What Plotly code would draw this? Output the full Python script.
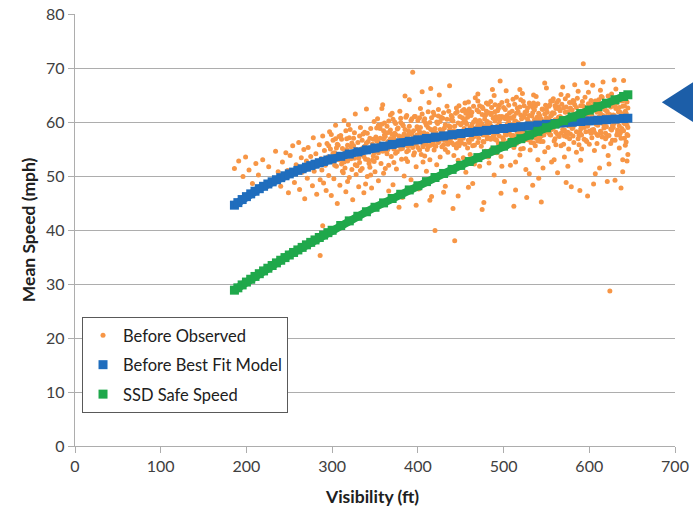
import plotly.graph_objects as go

# ---------------- data ----------------
observed_points = [
    (186, 51.4), (191, 52.8), (196, 49.9), (199, 53.5), (203, 51.1), (207, 48.6), (211, 52.3), (214, 50.2),
    (219, 53.0), (223, 47.9), (226, 51.7), (230, 49.2), (234, 54.6), (237, 50.8), (240, 48.1),
    (242, 52.6), (244, 49.7), (246, 54.3), (248, 51.0), (249, 46.9), (251, 53.8), (253, 50.4), (254, 55.6),
    (256, 48.8), (258, 52.1), (259, 51.3), (261, 56.2), (262, 47.5), (264, 53.4), (265, 50.7), (267, 54.9),
    (268, 45.8), (270, 52.8), (271, 49.6), (272, 55.3), (274, 51.9), (275, 53.6), (277, 48.2), (278, 57.1),
    (279, 50.9), (281, 54.1), (282, 46.6), (283, 52.5), (285, 55.8), (286, 49.3), (286, 35.3), (287, 53.2),
    (288, 51.1), (289, 40.8), (289, 57.4), (290, 48.7), (291, 54.7), (292, 52.0), (293, 47.3), (294, 56.0),
    (295, 53.5), (296, 50.1), (297, 58.2), (298, 55.0), (299, 46.4), (300, 52.7), (301, 56.6), (302, 49.5),
    (303, 54.3), (304, 59.4), (305, 51.8), (306, 44.9), (307, 55.7), (308, 53.0), (309, 48.3), (310, 57.5),
    (311, 52.2), (312, 55.1), (313, 50.6), (314, 60.3), (315, 54.4), (316, 47.1), (317, 56.9), (318, 52.8),
    (319, 53.9), (320, 49.7), (321, 58.6), (322, 55.4), (323, 51.2), (324, 45.6), (325, 57.0), (326, 53.3),
    (327, 61.5), (328, 50.3), (329, 54.8), (330, 56.2), (331, 48.0), (332, 52.5), (333, 59.0), (334, 54.0),
    (335, 51.4), (336, 57.8), (337, 46.9), (338, 55.5), (339, 53.1), (340, 62.4), (341, 49.9), (342, 56.4),
    (343, 54.6), (344, 51.6), (345, 58.8), (346, 47.8), (347, 55.9), (348, 53.7), (349, 60.1), (350, 50.8),
    (296, 55.6), (302, 53.8), (308, 57.3), (313, 52.9), (318, 49.0), (323, 56.1), (328, 54.9), (333, 51.0),
    (338, 58.1), (343, 52.3), (348, 56.8), (305, 55.2), (315, 51.5), (325, 54.5), (335, 56.6), (345, 50.2),
    (299, 57.7), (319, 59.5), (339, 48.5), (349, 54.3),
    (301, 54.2), (303, 52.0), (306, 55.9), (309, 53.4), (311, 56.8), (314, 52.6), (317, 54.9), (320, 57.1),
    (322, 53.2), (325, 55.6), (327, 52.1), (330, 54.3), (332, 57.4), (334, 55.0), (337, 53.6), (340, 56.1),
    (342, 53.0), (344, 57.0), (346, 54.8), (349, 52.7), (304, 56.9), (312, 50.9), (318, 55.7), (326, 58.0),
    (331, 53.3), (336, 55.2), (341, 57.9), (347, 52.9), (329, 51.9), (316, 58.4),
    (351, 57.2), (352, 53.4), (353, 60.6), (354, 49.1), (355, 56.0), (356, 58.8), (357, 52.3), (358, 55.1),
    (359, 63.2), (360, 50.5), (361, 57.6), (362, 54.7), (363, 45.3), (364, 59.2), (365, 56.4), (366, 52.0),
    (367, 58.1), (368, 61.3), (369, 53.6), (370, 55.9), (371, 48.4), (372, 57.0), (373, 60.0), (374, 54.2),
    (375, 51.3), (376, 58.7), (377, 56.5), (378, 44.2), (379, 62.0), (380, 55.0), (381, 53.1), (382, 59.6),
    (383, 57.4), (384, 50.0), (385, 56.3), (386, 60.9), (387, 54.5), (388, 52.7), (389, 58.4), (390, 64.1),
    (391, 55.7), (392, 49.3), (393, 57.9), (394, 69.2), (395, 53.9), (396, 61.0), (397, 56.8), (398, 51.7),
    (399, 59.1), (400, 55.3), (401, 47.6), (402, 58.2), (403, 62.5), (404, 54.0), (405, 57.1), (406, 52.6),
    (407, 60.2), (408, 56.0), (409, 59.8), (410, 50.9), (411, 57.8), (412, 55.4), (413, 63.6), (414, 53.0),
    (415, 58.6), (416, 46.2), (417, 56.7), (418, 61.8), (419, 54.8), (420, 39.9), (421, 58.0), (422, 52.1),
    (423, 59.7), (424, 56.2), (425, 65.0), (426, 53.5), (427, 57.5), (428, 50.3), (429, 60.7), (430, 55.8),
    (431, 58.9), (432, 48.1), (433, 56.9), (434, 62.9), (435, 54.4), (436, 59.3), (437, 57.2), (438, 51.5),
    (439, 60.4), (440, 56.1), (441, 44.0), (442, 58.4), (443, 38.0), (444, 61.6), (445, 55.2), (446, 57.7),
    (447, 52.9), (448, 63.0), (449, 56.6), (450, 59.5),
    (352, 56.5), (356, 55.0), (360, 58.4), (364, 54.1), (368, 56.9), (372, 52.5), (376, 55.6), (380, 59.9),
    (384, 57.8), (388, 55.5), (392, 60.3), (396, 54.3), (400, 58.7), (404, 56.4), (408, 53.7), (412, 59.0),
    (416, 57.3), (420, 55.6), (424, 61.1), (428, 57.6), (432, 54.9), (436, 56.4), (440, 60.9), (444, 58.0),
    (448, 55.6), (354, 59.4), (362, 51.4), (370, 61.6), (378, 56.0), (386, 53.2), (394, 57.0), (402, 60.8),
    (410, 55.9), (418, 58.3), (426, 60.1), (434, 56.5), (442, 53.8), (450, 57.3), (358, 62.5), (374, 57.7),
    (390, 58.1), (406, 55.7), (422, 56.8), (438, 59.1), (446, 61.9), (366, 47.2), (382, 46.0), (398, 44.6),
    (414, 45.5), (430, 47.0), (447, 46.3), (385, 64.8), (405, 65.6), (415, 66.2), (437, 66.7),
    (351, 55.4), (352, 58.9), (353, 56.7), (354, 54.3), (355, 59.1), (356, 57.0), (357, 55.8), (358, 59.6),
    (359, 54.6), (360, 56.9), (361, 59.8), (362, 57.3), (363, 55.2), (364, 58.0), (365, 54.9), (366, 60.2),
    (367, 56.2), (368, 58.5), (369, 55.4), (370, 57.7), (371, 60.5), (372, 55.0), (373, 57.9), (374, 59.7),
    (375, 56.3), (376, 54.5), (377, 58.9), (378, 57.4), (379, 55.6), (380, 60.7), (381, 57.0), (382, 55.1),
    (383, 59.3), (384, 56.7), (385, 58.6), (386, 55.9), (387, 61.2), (388, 57.5), (389, 54.7), (390, 59.2),
    (391, 57.8), (392, 56.1), (393, 60.6), (394, 55.3), (395, 58.4), (396, 57.2), (397, 61.0), (398, 55.9),
    (399, 57.6), (400, 60.3), (401, 56.6), (402, 54.8), (403, 59.0), (404, 57.9), (405, 61.5), (406, 55.4),
    (407, 58.0), (408, 60.6), (409, 56.8), (410, 59.4), (411, 54.9), (412, 61.9), (413, 57.3), (414, 59.9),
    (415, 55.7), (416, 60.8), (417, 58.5), (418, 56.2), (419, 61.3), (420, 58.8), (421, 55.5), (422, 60.0),
    (423, 57.3), (424, 62.3), (425, 56.5), (426, 58.6), (427, 60.9), (428, 55.4), (429, 58.2), (430, 61.7),
    (431, 56.6), (432, 59.5), (433, 57.4), (434, 60.5), (435, 55.9), (436, 62.0), (437, 58.5), (438, 56.8),
    (439, 61.2), (440, 57.9), (441, 60.2), (442, 55.8), (443, 59.2), (444, 57.1), (445, 62.6), (446, 56.0),
    (447, 59.8), (448, 58.0), (449, 61.0), (450, 56.4),
    (451, 56.1), (452, 60.8), (453, 53.4), (454, 62.3), (455, 57.9), (456, 50.7), (457, 59.6), (458, 55.2),
    (459, 63.7), (460, 58.3), (461, 54.0), (462, 61.2), (463, 56.8), (464, 48.6), (465, 60.0), (466, 57.3),
    (467, 64.5), (468, 53.1), (469, 59.0), (470, 56.2), (471, 61.9), (472, 51.8), (473, 58.7), (474, 55.5),
    (475, 62.8), (476, 57.6), (477, 45.1), (478, 60.5), (479, 54.6), (480, 59.4), (481, 56.9), (482, 63.3),
    (483, 52.4), (484, 58.1), (485, 61.4), (486, 55.0), (487, 66.0), (488, 57.4), (489, 50.2), (490, 60.2),
    (491, 58.6), (492, 54.3), (493, 62.1), (494, 56.0), (495, 59.8), (496, 67.6), (497, 53.6), (498, 61.0),
    (499, 57.1), (500, 58.9), (501, 49.0), (502, 60.6), (503, 55.8), (504, 63.9), (505, 58.2), (506, 56.5),
    (507, 61.7), (508, 52.0), (509, 59.3), (510, 57.0), (511, 64.2), (512, 55.3), (513, 60.0), (514, 47.4),
    (515, 58.5), (516, 62.6), (517, 56.3), (518, 59.7), (519, 53.9), (520, 61.3), (521, 57.7), (522, 65.3),
    (523, 55.1), (524, 60.9), (525, 58.0), (526, 51.2), (527, 62.0), (528, 56.7), (529, 59.1), (530, 63.5),
    (531, 54.8), (532, 58.8), (533, 61.1), (534, 48.3), (535, 57.3), (536, 60.4), (537, 55.6), (538, 64.7),
    (539, 58.4), (540, 53.0), (541, 61.6), (542, 57.0), (543, 59.6), (544, 45.2), (545, 62.4), (546, 56.4),
    (547, 60.1), (548, 54.5), (549, 58.6), (550, 66.3),
    (452, 57.5), (456, 59.9), (460, 61.5), (464, 55.6), (468, 58.9), (472, 60.3), (476, 56.4), (480, 62.0),
    (484, 57.0), (488, 60.7), (492, 58.0), (496, 55.7), (500, 62.7), (504, 59.5), (508, 57.6), (512, 61.0),
    (516, 58.1), (520, 55.0), (524, 63.0), (528, 60.5), (532, 56.2), (536, 62.2), (540, 59.1), (544, 57.4),
    (548, 61.5), (454, 58.8), (462, 57.4), (470, 60.1), (478, 57.8), (486, 61.6), (494, 60.6), (502, 57.8),
    (510, 60.7), (518, 56.9), (526, 59.6), (534, 62.7), (542, 60.3), (550, 58.2), (458, 62.0), (474, 59.2),
    (490, 56.8), (506, 60.0), (522, 58.5), (538, 57.0), (546, 59.9), (466, 52.2), (482, 53.5), (498, 51.8),
    (514, 52.6), (530, 50.4), (546, 51.5), (470, 65.2), (489, 64.9), (503, 65.8), (519, 66.0), (535, 65.0),
    (548, 67.2), (459, 47.9), (497, 46.8), (527, 46.0), (541, 49.6), (475, 43.8), (512, 44.4), (463, 59.5),
    (479, 61.3), (495, 63.1), (511, 57.5), (525, 61.8), (539, 60.9), (455, 63.5), (485, 59.3), (515, 64.6),
    (545, 58.7),
    (451, 59.7), (452, 62.1), (453, 57.0), (454, 60.3), (455, 55.9), (456, 61.6), (457, 58.1), (458, 60.9),
    (459, 56.6), (460, 62.4), (461, 59.0), (462, 56.9), (463, 61.8), (464, 58.6), (465, 62.9), (466, 55.7),
    (467, 60.4), (468, 57.7), (469, 62.2), (470, 59.5), (471, 57.0), (472, 63.0), (473, 60.0), (474, 57.9),
    (475, 59.6), (476, 62.5), (477, 56.3), (478, 61.1), (479, 58.2), (480, 63.5), (481, 60.1), (482, 57.1),
    (483, 61.7), (484, 59.8), (485, 56.8), (486, 62.7), (487, 58.3), (488, 60.8), (489, 57.5), (490, 63.2),
    (491, 61.0), (492, 56.6), (493, 59.3), (494, 62.5), (495, 57.4), (496, 60.5), (497, 58.7), (498, 63.6),
    (499, 56.2), (500, 60.9), (501, 59.1), (502, 62.3), (503, 57.6), (504, 61.2), (505, 55.9), (506, 63.1),
    (507, 58.4), (508, 60.8), (509, 56.7), (510, 62.0), (511, 59.5), (512, 57.4), (513, 63.3), (514, 60.2),
    (515, 56.0), (516, 59.9), (517, 61.9), (518, 58.0), (519, 62.8), (520, 57.3), (521, 60.6), (522, 58.7),
    (523, 63.8), (524, 56.6), (525, 61.5), (526, 59.3), (527, 57.2), (528, 62.6), (529, 60.1), (530, 58.0),
    (531, 63.0), (532, 57.0), (533, 59.8), (534, 61.7), (535, 56.1), (536, 58.6), (537, 62.9), (538, 60.4),
    (539, 57.1), (540, 63.4), (541, 58.9), (542, 61.2), (543, 56.4), (544, 60.6), (545, 58.3), (546, 62.3),
    (547, 57.6), (548, 59.5), (549, 63.1), (550, 60.8), (455, 60.4), (465, 58.8), (475, 61.4), (485, 63.8),
    (495, 61.0), (505, 60.5), (515, 61.6), (525, 57.8), (535, 63.5), (545, 60.0), (460, 56.2), (470, 63.9),
    (480, 57.5), (490, 61.9), (500, 56.8), (510, 58.8), (520, 64.1), (530, 61.2), (540, 56.5), (550, 62.4),
    (551, 59.5), (552, 55.3), (553, 62.9), (554, 57.7), (555, 61.1), (556, 52.6), (557, 59.0), (558, 64.3),
    (559, 56.5), (560, 60.4), (561, 58.1), (562, 63.6), (563, 50.6), (564, 60.9), (565, 57.3), (566, 62.1),
    (567, 55.6), (568, 59.8), (569, 66.5), (570, 58.4), (571, 53.5), (572, 61.8), (573, 57.9), (574, 60.2),
    (575, 64.9), (576, 55.0), (577, 59.3), (578, 62.6), (579, 48.0), (580, 58.8), (581, 61.4), (582, 56.2),
    (583, 63.2), (584, 59.6), (585, 54.4), (586, 60.8), (587, 65.7), (588, 57.5), (589, 61.9), (590, 52.9),
    (591, 59.2), (592, 63.8), (593, 70.8), (594, 56.8), (595, 60.5), (596, 58.2), (597, 62.4), (598, 46.3),
    (599, 59.9), (600, 55.9), (601, 63.0), (602, 57.9), (603, 61.2), (604, 66.8), (605, 58.6), (606, 54.7),
    (607, 60.7), (608, 62.8), (609, 56.0), (610, 59.4), (611, 64.1), (612, 51.5), (613, 61.6), (614, 58.0),
    (615, 60.3), (616, 67.4), (617, 55.4), (618, 62.3), (619, 59.1), (620, 57.2), (621, 63.4), (622, 53.8),
    (623, 60.6), (624, 28.7), (625, 58.7), (626, 65.2), (627, 56.6), (628, 61.3), (629, 59.7), (630, 49.2),
    (631, 62.5), (632, 57.6), (633, 60.1), (634, 64.6), (635, 55.2), (636, 61.8), (637, 58.3), (638, 63.9),
    (639, 53.0), (640, 60.0), (641, 57.0), (642, 62.0), (643, 56.3), (644, 59.4), (645, 61.0),
    (553, 58.0), (557, 61.7), (561, 55.8), (565, 60.6), (569, 58.6), (573, 62.8), (577, 56.9), (581, 59.0),
    (585, 61.5), (589, 58.1), (593, 60.3), (597, 56.4), (601, 59.8), (605, 62.6), (609, 57.7), (613, 60.0),
    (617, 58.9), (621, 61.9), (625, 56.0), (629, 63.3), (633, 58.5), (637, 60.6), (641, 59.7), (645, 57.5),
    (555, 63.9), (563, 60.0), (571, 57.4), (579, 61.0), (587, 59.8), (595, 62.7), (603, 58.5), (611, 60.9),
    (619, 56.9), (627, 59.3), (635, 62.7), (643, 60.5), (559, 53.0), (575, 51.8), (591, 55.0), (607, 50.4),
    (623, 52.2), (639, 50.8), (645, 54.0), (567, 65.1), (583, 66.9), (599, 65.5), (615, 64.6), (631, 66.1),
    (640, 67.7), (573, 48.8), (589, 47.3), (605, 48.5), (621, 49.0), (637, 47.8), (581, 64.0), (597, 67.3),
    (613, 65.9), (629, 67.8), (564, 62.8), (580, 63.6), (596, 61.5), (612, 63.0), (628, 64.2), (644, 63.7),
    (556, 58.6), (572, 59.6), (588, 55.8), (604, 60.1), (620, 61.0), (636, 57.9), (645, 65.3), (644, 52.8),
    (642, 55.7), (640, 64.0), (638, 58.8), (646, 60.2),
    (551, 61.8), (552, 58.6), (553, 60.5), (554, 63.2), (555, 57.6), (556, 61.3), (557, 63.9), (558, 58.9),
    (559, 61.6), (560, 56.9), (561, 62.5), (562, 60.0), (563, 57.7), (564, 64.0), (565, 59.4), (566, 61.0),
    (567, 57.9), (568, 63.3), (569, 60.7), (570, 62.6), (571, 58.5), (572, 64.3), (573, 60.0), (574, 57.2),
    (575, 61.9), (576, 59.3), (577, 63.6), (578, 57.8), (579, 60.8), (580, 62.2), (581, 57.4), (582, 63.8),
    (583, 59.9), (584, 61.5), (585, 58.2), (586, 64.4), (587, 56.9), (588, 61.7), (589, 59.6), (590, 63.0),
    (591, 57.6), (592, 60.7), (593, 62.9), (594, 59.0), (595, 64.6), (596, 56.6), (597, 61.0), (598, 59.2),
    (599, 63.4), (600, 58.3), (601, 61.5), (602, 64.0), (603, 57.1), (604, 62.7), (605, 60.2), (606, 58.1),
    (607, 63.9), (608, 59.6), (609, 61.8), (610, 57.5), (611, 62.4), (612, 60.5), (613, 58.3), (614, 64.7),
    (615, 57.2), (616, 61.2), (617, 59.5), (618, 63.1), (619, 57.9), (620, 62.1), (621, 60.0), (622, 64.8),
    (623, 57.5), (624, 61.4), (625, 62.8), (626, 58.5), (627, 63.7), (628, 59.0), (629, 61.2), (630, 56.6),
    (631, 60.6), (632, 63.5), (633, 58.0), (634, 61.9), (635, 59.3), (636, 64.2), (637, 57.0), (638, 61.1),
    (639, 62.9), (640, 58.4), (641, 63.0), (642, 59.7), (643, 61.6), (644, 57.7), (645, 62.6), (560, 63.0),
    (570, 55.9), (580, 60.1), (590, 58.7), (600, 61.9), (610, 63.3), (620, 59.1), (630, 62.9), (640, 61.5),
    (645, 59.0), (555, 59.6), (565, 62.4), (575, 58.1), (585, 62.7), (595, 60.0), (605, 63.6), (615, 59.8),
    (625, 60.4), (635, 57.6), (643, 64.5),
]
obs_x = [p[0] for p in observed_points]
obs_y = [p[1] for p in observed_points]

curve_x = [186, 190, 195, 200, 205, 210, 215, 220, 225, 230, 235, 240, 245, 250, 255, 260, 265, 270,
           275, 280, 285, 290, 295, 300, 310, 320, 330, 340, 350, 360, 370, 380, 390, 400, 410, 420,
           430, 440, 450, 460, 470, 480, 490, 500, 510, 520, 530, 540, 550, 560, 570, 580, 590, 600,
           610, 620, 630, 640, 645]

best_fit_y = [44.60, 45.07, 45.64, 46.18, 46.69, 47.18, 47.65, 48.09, 48.52, 48.92, 49.31, 49.69, 50.04,
              50.39, 50.72, 51.04, 51.34, 51.63, 51.92, 52.19, 52.46, 52.71, 52.96, 53.19, 53.65, 54.07,
              54.47, 54.84, 55.20, 55.53, 55.85, 56.15, 56.43, 56.70, 56.96, 57.20, 57.43, 57.66, 57.87,
              58.07, 58.27, 58.45, 58.63, 58.80, 58.97, 59.13, 59.28, 59.43, 59.57, 59.71, 59.84, 59.96,
              60.09, 60.21, 60.32, 60.43, 60.54, 60.64, 60.70]

ssd_y = [28.86, 29.29, 29.83, 30.36, 30.88, 31.40, 31.91, 32.42, 32.92, 33.42, 33.91, 34.40, 34.89,
         35.37, 35.84, 36.31, 36.78, 37.25, 37.71, 38.16, 38.61, 39.06, 39.51, 39.95, 40.83, 41.69,
         42.54, 43.38, 44.21, 45.02, 45.83, 46.62, 47.42, 48.19, 48.96, 49.72, 50.47, 51.22, 51.96,
         52.68, 53.41, 54.12, 54.83, 55.53, 56.22, 56.91, 57.59, 58.27, 58.94, 59.60, 60.26, 60.92,
         61.56, 62.21, 62.84, 63.48, 64.11, 64.73, 65.04]

series_names = ["Before Observed", "Before Best Fit Model", "SSD Safe Speed"]
x_ticks = [0, 100, 200, 300, 400, 500, 600, 700]
y_ticks = [0, 10, 20, 30, 40, 50, 60, 70, 80]

# ---------------- styles ----------------
ORANGE = "#F79646"
BLUE = "#1F6DBD"
GREEN = "#1FA84B"
GRID = "#ADADAD"
TEXT = "#404040"
FONT = "Lato"

fig = go.Figure()

fig.add_trace(go.Scatter(
    x=obs_x, y=obs_y, mode="markers", name=series_names[0],
    marker=dict(color=ORANGE, size=5, symbol="circle"),
    legendgroup="a", showlegend=True))

fig.add_trace(go.Scatter(
    x=curve_x, y=best_fit_y, mode="lines", line=dict(color=BLUE, width=8),
    showlegend=False, hoverinfo="skip"))
fig.add_trace(go.Scatter(
    x=curve_x, y=best_fit_y, mode="markers", name=series_names[1],
    marker=dict(color=BLUE, size=9, symbol="square"),
    legendgroup="b", showlegend=True))

fig.add_trace(go.Scatter(
    x=curve_x, y=ssd_y, mode="lines", line=dict(color=GREEN, width=8),
    showlegend=False, hoverinfo="skip"))
fig.add_trace(go.Scatter(
    x=curve_x, y=ssd_y, mode="markers", name=series_names[2],
    marker=dict(color=GREEN, size=9, symbol="square"),
    legendgroup="c", showlegend=True))

fig.update_layout(
    width=693, height=512,
    margin=dict(l=75, r=18, t=14, b=66),
    paper_bgcolor="white", plot_bgcolor="white",
    font=dict(family=FONT, size=16, color=TEXT),
    xaxis=dict(range=[0, 700], tickvals=x_ticks, showgrid=False, zeroline=False, automargin=False,
               showline=True, linecolor=GRID, linewidth=1.3,
               ticks="outside", ticklen=6, tickcolor=GRID, tickwidth=1.3,
               tickfont=dict(family=FONT, size=16, color=TEXT)),
    yaxis=dict(range=[0, 80], tickvals=y_ticks, showgrid=True, gridcolor=GRID, gridwidth=1.3,
               zeroline=False, showline=True, linecolor=GRID, linewidth=1.3, automargin=False,
               ticks="outside", ticklen=6, tickcolor=GRID, tickwidth=1.3,
               tickfont=dict(family=FONT, size=16, color=TEXT)),
    legend=dict(x=0.0117, y=0.2986, xanchor="left", yanchor="top",
                bgcolor="white", bordercolor="#595959", borderwidth=1,
                font=dict(family=FONT, size=16.5, color="#202020"),
                traceorder="grouped", tracegroupgap=5, itemwidth=30),
    showlegend=True,
    annotations=[
        dict(text="<b>Visibility (ft)</b>", xref="paper", yref="paper", x=0.495, y=-0.116,
             xanchor="center", yanchor="middle", showarrow=False,
             font=dict(family=FONT, size=17.5, color="#202020")),
        dict(text="<b>Mean Speed (mph)</b>", xref="paper", yref="paper", x=-0.078, y=0.5,
             xanchor="center", yanchor="middle", showarrow=False, textangle=-90,
             font=dict(family=FONT, size=17.5, color="#202020")),
    ],
    shapes=[
        dict(type="path", xref="paper", yref="paper",
             path="M 0.978 0.796 L 1.04 0.851 L 1.04 0.741 Z",
             fillcolor="#1C5EA8", line=dict(width=0), layer="above"),
    ],
)

fig.write_html("out.html")
